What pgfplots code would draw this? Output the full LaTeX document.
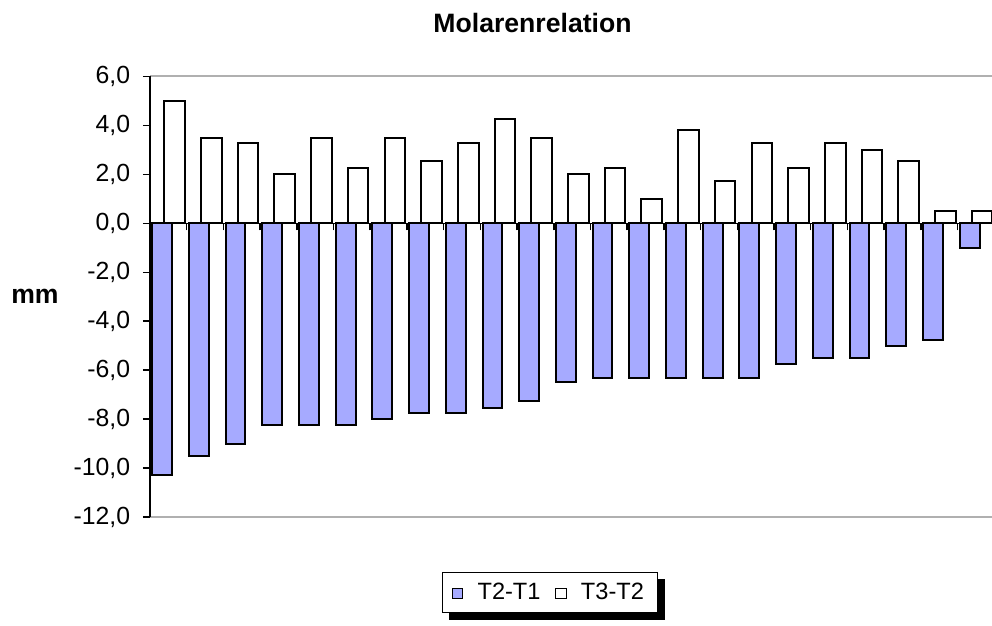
\documentclass[border=0pt]{standalone}
\usepackage{pgfplots}
\pgfplotsset{compat=1.18}
\usepackage{fontspec}
\setmainfont{Liberation Sans}
\definecolor{barblue}{RGB}{166,170,255}
\definecolor{framegray}{RGB}{176,176,176}

\begin{document}
\begin{tikzpicture}
\begin{axis}[
  name=ax,
  scale only axis,
  width=421bp, height=220.25bp,
  xmin=-0.5, xmax=22.44,
  ymin=-12, ymax=6,
  clip=false,
  axis x line=middle,
  axis y line*=left,
  hide obscured x ticks=false,
  hide obscured y ticks=false,
  axis line style={-, black, line width=0.75bp},
  every inner x axis line/.append style={-},
  xtick={-0.5,0.5,...,22.5},
  xticklabels={},
  xtick align=outside,
  ytick={-12,-10,...,6},
  ytick align=outside,
  major tick length=3.5bp,
  major tick style={black, line width=0.75bp},
  yticklabel style={xshift=-2.9bp, font=\fontsize{12.4bp}{14bp}\selectfont, /pgf/number format/fixed, /pgf/number format/fixed zerofill, /pgf/number format/precision=1, /pgf/number format/use comma, /pgf/number format/assume math mode=true},
  title={Molarenrelation},
  title style={at={(axis description cs:0.4543,1)}, anchor=base, yshift=16.1bp, font=\fontsize{13.3bp}{15bp}\selectfont\bfseries},
  ylabel={mm},
  every axis y label/.style={at={(axis description cs:-0.1366,0.5)}, anchor=center, font=\fontsize{13.3bp}{15bp}\selectfont\bfseries},
  legend columns=2,
  legend style={name=leg, at={(axis description cs:0.4750,-0.171)}, anchor=center, draw=black, line width=0.5bp, fill=white,
    font=\fontsize{11.8bp}{13bp}\selectfont,
    /tikz/every odd column/.append style={column sep=5.1bp},
    /tikz/every even column/.append style={column sep=5.45bp},
    inner xsep=4.75bp, inner ysep=3.3bp},
  legend image code/.code={\draw[#1, line width=0.5bp] (0bp,-3.2bp) rectangle (5.2bp,2bp);},
]
\addplot[ybar, bar width=0.54, bar shift=-0.17, fill=barblue, draw=black, line width=1bp] coordinates {
(0,-10.3) (1,-9.5) (2,-9.0) (3,-8.25) (4,-8.25) (5,-8.25) (6,-8.0) (7,-7.75) (8,-7.75) (9,-7.55) (10,-7.25) (11,-6.5)
(12,-6.3) (13,-6.3) (14,-6.3) (15,-6.3) (16,-6.3) (17,-5.75) (18,-5.5) (19,-5.5) (20,-5.0) (21,-4.75) (22,-1.0)};
\addlegendentry{T2-T1}
\addplot[ybar, bar width=0.56, bar shift=0.17, fill=white, draw=black, line width=1bp] coordinates {
(0,5.0) (1,3.5) (2,3.3) (3,2.0) (4,3.5) (5,2.25) (6,3.5) (7,2.55) (8,3.3) (9,4.25) (10,3.5) (11,2.0)
(12,2.25) (13,1.0) (14,3.8) (15,1.75) (16,3.3) (17,2.25) (18,3.3) (19,3.0) (20,2.55) (21,0.5) (22,0.5)};
\addlegendentry{T3-T2}
\draw[framegray, line width=1bp] (rel axis cs:0,1) -- (rel axis cs:1,1);
\draw[framegray, line width=1bp] (rel axis cs:0,0) -- (rel axis cs:1,0);
\draw[black, line width=0.75bp] (rel axis cs:0,0) -- (rel axis cs:0,1);
\end{axis}
\fill[black] ([xshift=3.5bp,yshift=-3.5bp]leg.south west) rectangle ([xshift=3.5bp]leg.south east);
\fill[black] ([yshift=-3.5bp]leg.north east) rectangle ([xshift=3.5bp,yshift=-3.5bp]leg.south east);
\pgfresetboundingbox
\path[use as bounding box] ([xshift=-75bp,yshift=-54.5bp]ax.south west) rectangle ([yshift=38.25bp]ax.north east);
\end{tikzpicture}
\end{document}
